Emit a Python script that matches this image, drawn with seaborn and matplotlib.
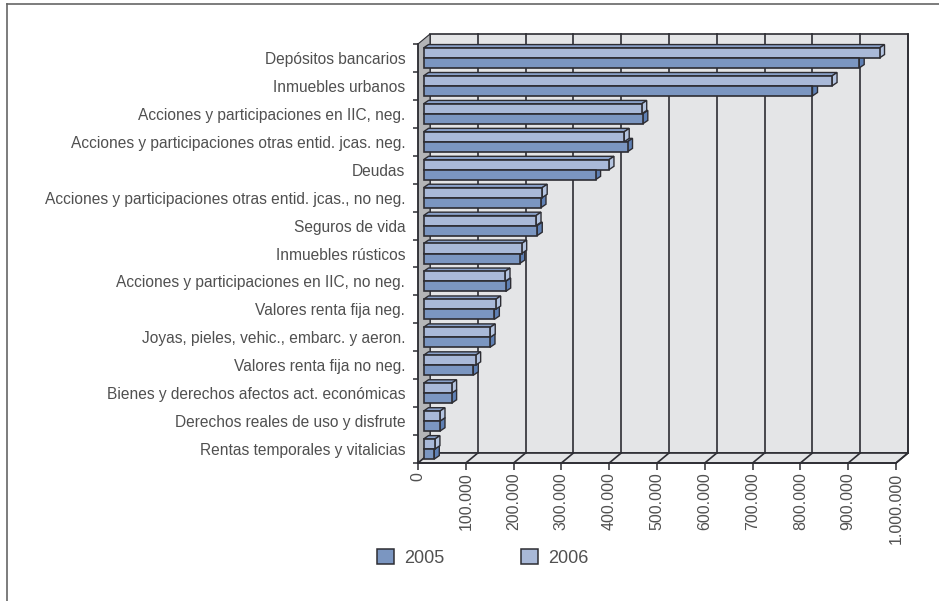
import numpy as np
import pandas as pd
import matplotlib
matplotlib.use("Agg")
import matplotlib.pyplot as plt
from matplotlib.lines import Line2D
from matplotlib.patches import Patch, Polygon, Rectangle
from matplotlib.transforms import Affine2D
import seaborn as sns

categories = ["Depósitos bancarios", "Inmuebles urbanos",
              "Acciones y participaciones en IIC, neg.",
              "Acciones y participaciones otras entid. jcas. neg.",
              "Deudas",
              "Acciones y participaciones otras entid. jcas., no neg.",
              "Seguros de vida", "Inmuebles rústicos",
              "Acciones y participaciones en IIC, no neg.",
              "Valores renta fija neg.",
              "Joyas, pieles, vehic., embarc. y aeron.",
              "Valores renta fija no neg.",
              "Bienes y derechos afectos act. económicas",
              "Derechos reales de uso y disfrute",
              "Rentas temporales y vitalicias"]
values_2005 = [911500, 813800, 458800, 426800, 360000, 245800, 238000, 201300,
               171900, 148200, 139100, 104200, 58800, 34500, 22600]
values_2006 = [954000, 854700, 456500, 419900, 388000, 248300, 235400, 205400,
               170500, 151000, 139600, 109100, 58800, 34500, 23900]
x_ticks = [0, 100000, 200000, 300000, 400000, 500000, 600000, 700000, 800000,
           900000, 1000000]
x_labels = ["0", "100.000", "200.000", "300.000", "400.000", "500.000", "600.000",
            "700.000", "800.000", "900.000", "1.000.000"]

W, H = 939, 601
DARK = "#2d2d33"
TEXT = "#505050"
WALL = "#e4e5e7"
SIDE = "#b4b5b7"
COL_05, COL_06 = "#7b96c1", "#a9b9d8"
SIDE_05, SIDE_06 = "#5f80b4", "#b4c4e0"
TOP_05, TOP_06 = "#7f98c2", "#8aa1c9"

plt.rcParams["font.family"] = ["Liberation Sans", "DejaVu Sans"]

df = pd.DataFrame({"concepto": categories * 2,
                   "valor": values_2005 + values_2006,
                   "anio": ["2005"] * 15 + ["2006"] * 15})

fig = plt.figure(figsize=(W / 100, H / 100), dpi=100)
# the axes is the front plane of the fake 3d box
ax = fig.add_axes([418 / W, 1 - 463 / H, 478 / W, 419 / H])

sns.barplot(data=df, y="concepto", x="valor", hue="anio", hue_order=["2006", "2005"],
            palette={"2005": COL_05, "2006": COL_06}, orient="h", width=0.716,
            order=categories, saturation=1, edgecolor=DARK, linewidth=1.2,
            legend=False, ax=ax)
ax.set_xlim(0, 1000000)
ax.set_ylim(14.5, -0.5)

px_x = 1000000 / 478.0
px_y = 15 / 419.0
wall_dx, wall_dy = 12 * px_x, -10 * px_y
bar_dx, bar_dy = 5 * px_x, -3.4 * px_y
y_top, y_bot = -0.5, 14.5

# walls and floor
ax.add_patch(Rectangle((wall_dx, y_top + wall_dy), 1000000, 15, fc=WALL, ec=DARK,
                       lw=1.2, zorder=0.5, clip_on=False))
ax.add_patch(Polygon([(0, y_top), (wall_dx, y_top + wall_dy), (wall_dx, y_bot + wall_dy),
                      (0, y_bot)], fc=SIDE, ec=DARK, lw=0.8, zorder=0.6, clip_on=False))
ax.add_patch(Polygon([(0, y_bot), (wall_dx, y_bot + wall_dy),
                      (1000000 + wall_dx, y_bot + wall_dy), (1000000, y_bot)],
                     fc=WALL, ec=DARK, lw=1.2, zorder=0.6, clip_on=False))
for t in x_ticks[1:]:
    ax.plot([t + wall_dx, t + wall_dx], [y_top + wall_dy, y_bot + wall_dy], color=DARK,
            lw=1.2, zorder=0.8, clip_on=False)
    ax.plot([t, t + wall_dx], [y_bot, y_bot + wall_dy], color=DARK, lw=1.2, zorder=0.8,
            clip_on=False)

# bars sit a little behind the front plane, add the depth faces from the real bars
shift = ax.transData + Affine2D().translate(5.5, 0)
n = len(categories)
for k, bar in enumerate(ax.patches[:2 * n]):
    bar.set_transform(shift)
    bar.set_clip_on(False)
    bar.set_zorder(3)
    x1 = bar.get_width()
    y0, y1 = bar.get_y(), bar.get_y() + bar.get_height()
    is_06 = k < n
    z = 2.4 if is_06 else 2.2
    ax.add_patch(Polygon([(0, y0), (bar_dx, y0 + bar_dy), (x1 + bar_dx, y0 + bar_dy), (x1, y0)],
                         fc=TOP_06 if is_06 else TOP_05, ec=DARK, lw=1.0, zorder=z,
                         transform=shift, clip_on=False))
    ax.add_patch(Polygon([(x1, y0), (x1 + bar_dx, y0 + bar_dy), (x1 + bar_dx, y1 + bar_dy), (x1, y1)],
                         fc=SIDE_06 if is_06 else SIDE_05, ec=DARK, lw=1.0, zorder=z,
                         transform=shift, clip_on=False))

# axis ticks: major at the row edges, names on minor ticks
ax.set_xlabel("")
ax.set_ylabel("")
ax.set_yticks(np.arange(-0.5, 15), labels=[""] * 16)
ax.set_yticks(np.arange(15), labels=categories, minor=True)
ax.tick_params(axis="y", which="major", length=3.6, width=1.1, color=DARK)
ax.tick_params(axis="y", which="minor", length=0, pad=9.2, labelsize=11.2, labelcolor=TEXT)
ax.set_xticks(x_ticks, labels=x_labels)
ax.tick_params(axis="x", length=5, width=1.1, color=DARK, pad=1.8, labelsize=11.5,
               labelcolor=TEXT, labelrotation=90)
for s in ["top", "right"]:
    ax.spines[s].set_visible(False)
for s in ["left", "bottom"]:
    ax.spines[s].set_color(DARK)
    ax.spines[s].set_linewidth(1.2)
    ax.spines[s].set_zorder(1)

handles = [Patch(fc=COL_05, ec=DARK, lw=1.1, label="2005"),
           Patch(fc=COL_06, ec=DARK, lw=1.1, label="2006")]
fig.legend(handles=handles, ncol=2, frameon=False, fontsize=13, labelcolor=TEXT,
           handlelength=0.94, handleheight=0.94, handletextpad=0.55, columnspacing=4.27,
           loc="center left", bbox_to_anchor=(368 / W, 1 - 558 / H), borderpad=0)

# frame: only left and top edges are inside the picture
for xs, ys in [([7, 7], [H, 3.5]), ([7, W], [3.5, 3.5])]:
    fig.add_artist(Line2D([v / W for v in xs], [1 - v / H for v in ys], color="#666666", lw=1.2))

fig.savefig("out.png", dpi=100)
